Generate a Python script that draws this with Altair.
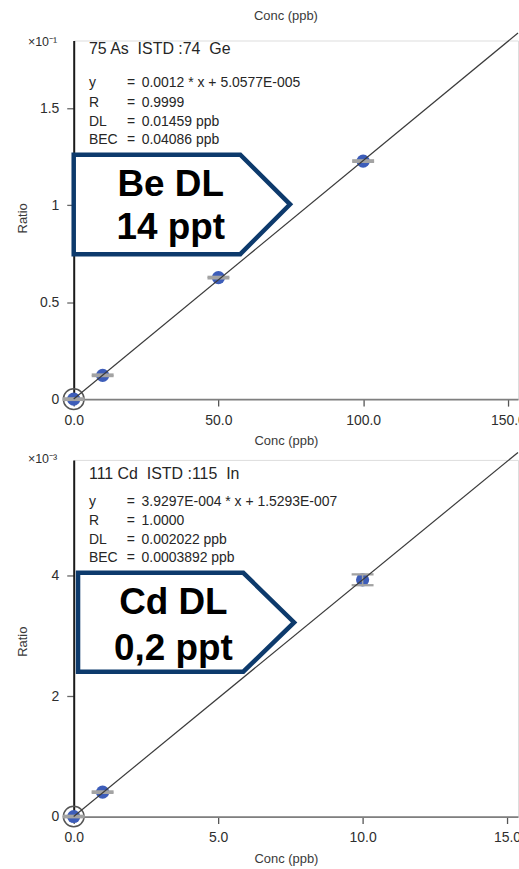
import altair as alt
import pandas as pd

FONT = "Liberation Sans, Arial, Helvetica, sans-serif"
TEXT = "#262626"
AXIS_TEXT = "#2e2e2e"
NAVY = "#0d3a6c"
DOT = "#3d5db9"
CAP = "#a3a3a3"

# ---- 75 As (ISTD 74 Ge) calibration ----
as_conc = [0.0, 10.0, 50.0, 100.0]
as_ratio = [0.0, 0.0123, 0.0627, 0.1228]
as_err = [0.0004, 0.0004, 0.0004, 0.0004]
as_slope = 0.00123
as_intercept = 5.0577e-5
as_header = "75 As\u00a0 ISTD :74\u00a0 Ge"
as_labels = ["y", "R", "DL", "BEC"]
as_values = ["0.0012 * x + 5.0577E-005", "0.9999", "0.01459 ppb", "0.04086 ppb"]
as_callout = ["Be DL", "14 ppt"]

# ---- 111 Cd (ISTD 115 In) calibration ----
cd_conc = [0.0, 1.0, 10.0]
cd_ratio = [0.0, 0.000405, 0.00393]
cd_err = [0.000012, 0.000012, 0.00009]
cd_slope = 3.9297e-4
cd_intercept = 1.5293e-7
cd_header = "111 Cd\u00a0 ISTD :115\u00a0 In"
cd_labels = ["y", "R", "DL", "BEC"]
cd_values = ["3.9297E-004 * x + 1.5293E-007", "1.0000", "0.002022 ppb", "0.0003892 ppb"]
cd_callout = ["Cd DL", "0,2 ppt"]

PLOT_W = 446


def panel(conc, ratio, err, slope, intercept, header, labels, values, callout,
          x_max, x_ticks, y_max, y_ticks, y_factor, exponent, height,
          note_x, note_y, box_x, box_y, box_y2, callout_x, callout_y,
          exp_y, ratio_title_y, top_label=None):
    x_scale = alt.Scale(domain=[0, x_max], nice=False, zero=True)
    y_scale = alt.Scale(domain=[0, y_max], nice=False, zero=True)
    x_axis = alt.Axis(
        values=x_ticks, format=".1f", title="Conc (ppb)", grid=False,
        labelFlush=False, labelOverlap=False,
        domainColor="#7f7f7f", domainWidth=1.8,
        tickColor="#555555", tickSize=7, tickWidth=1.3,
        labelFont=FONT, labelFontSize=14, labelColor=AXIS_TEXT, labelPadding=7,
        titleFont=FONT, titleFontSize=13, titleFontWeight="normal", titleColor="#3a3a3a",
        titleX=213, titleY=42, titleBaseline="middle", titleAlign="center",
    )
    y_axis = alt.Axis(
        values=y_ticks, labelExpr=f"format(datum.value * {y_factor}, '~g')",
        title="Ratio", grid=False, labelOverlap=False,
        domainColor="#1a1a1a", domainWidth=2,
        tickColor="#666666", tickSize=7, tickWidth=1.3,
        labelFont=FONT, labelFontSize=14, labelColor=AXIS_TEXT, labelPadding=8,
        titleFont=FONT, titleFontSize=13, titleFontWeight="normal", titleColor="#3a3a3a",
        titleX=-51, titleY=ratio_title_y, titleBaseline="middle", titleAlign="center",
    )
    ex = alt.X("x:Q", scale=x_scale, axis=x_axis)
    ey = alt.Y("y:Q", scale=y_scale, axis=y_axis)

    pts = pd.DataFrame({"x": conc, "y": ratio})
    pts["lo"] = [r - e for r, e in zip(ratio, err)]
    pts["hi"] = [r + e for r, e in zip(ratio, err)]
    fit = pd.DataFrame({"x": [0.0, x_max]})
    fit["y"] = slope * fit["x"] + intercept

    box = pd.DataFrame({"x": box_x, "y": box_y, "y2": box_y2})
    call = pd.DataFrame({"x": [callout_x, callout_x], "y": callout_y, "text": callout})

    nx = [note_x[0]] + [note_x[0]] * 4 + [note_x[1]] * 4 + [note_x[2]] * 4
    ny = [note_y[0]] + list(note_y[1:]) * 3
    nt = [header] + labels + ["="] * 4 + values
    ns = [16] + [14] * 12
    notes = pd.DataFrame({"x": nx, "y": ny, "text": nt, "size": ns})

    ring = alt.Chart(pts[pts["x"] == 0]).mark_point(
        shape="circle", filled=False, size=430, stroke="#555555", strokeWidth=1.5, opacity=1
    ).encode(x=ex, y=ey)
    dots = alt.Chart(pts).mark_circle(size=175, color=DOT, opacity=1).encode(x=ex, y=ey)
    bars = alt.Chart(pts).mark_rule(color=CAP, strokeWidth=1.5).encode(
        x=ex, y=alt.Y("lo:Q", scale=y_scale, axis=y_axis), y2="hi:Q")
    cap_lo = alt.Chart(pts).mark_tick(orient="horizontal", size=22, thickness=2.3, color=CAP, opacity=1).encode(
        x=ex, y=alt.Y("lo:Q", scale=y_scale, axis=y_axis))
    cap_hi = alt.Chart(pts).mark_tick(orient="horizontal", size=22, thickness=2.3, color=CAP, opacity=1).encode(
        x=ex, y=alt.Y("hi:Q", scale=y_scale, axis=y_axis))
    line = alt.Chart(fit).mark_line(color="#3b3b3b", strokeWidth=1.2, clip=False).encode(x=ex, y=ey)
    arrow = alt.Chart(box).mark_area(
        fill="white", fillOpacity=1, stroke=NAVY, strokeWidth=4.5, strokeJoin="miter",
        interpolate="linear", opacity=1
    ).encode(x=ex, y=ey, y2="y2:Q")
    arrow_text = alt.Chart(call).mark_text(
        font=FONT, fontSize=37, fontWeight="bold", align="center", baseline="alphabetic", color="black"
    ).encode(x=ex, y=ey, text="text:N")
    note_text = alt.Chart(notes).mark_text(
        font=FONT, align="left", baseline="alphabetic", color=TEXT
    ).encode(x=ex, y=ey, text="text:N", size=alt.Size("size:Q", scale=None))
    exp_text = alt.Chart(pd.DataFrame({"t": [exponent]})).mark_text(
        font=FONT, fontSize=12.5, align="left", baseline="middle", color=AXIS_TEXT
    ).encode(x=alt.value(-46), y=alt.value(exp_y), text="t:N")

    layers = [ring, dots, bars, cap_lo, cap_hi, line, arrow, arrow_text, note_text, exp_text]
    if top_label:
        layers.append(
            alt.Chart(pd.DataFrame({"t": [top_label]})).mark_text(
                font=FONT, fontSize=13, align="center", baseline="middle", color="#3a3a3a"
            ).encode(x=alt.value(213), y=alt.value(-25), text="t:N")
        )
    return alt.layer(*layers).properties(width=PLOT_W, height=height)


top = panel(
    as_conc, as_ratio, as_err, as_slope, as_intercept, as_header, as_labels, as_values, as_callout,
    x_max=153.5, x_ticks=[0, 50, 100, 150], y_max=0.185, y_ticks=[0, 0.05, 0.10, 0.15],
    y_factor=10, exponent="×10⁻¹", height=360,
    note_x=[5.26, 18.4, 23.5], note_y=[0.1779, 0.1609, 0.1506, 0.1409, 0.1316],
    box_x=[0.0, 57.55, 74.75], box_y=[0.1261, 0.1261, 0.1005], box_y2=[0.0748, 0.0748, 0.1005],
    callout_x=33.5, callout_y=[0.1049, 0.0828], exp_y=1, ratio_title_y=178,
    top_label="Conc (ppb)",
)

bottom = panel(
    cd_conc, cd_ratio, cd_err, cd_slope, cd_intercept, cd_header, cd_labels, cd_values, cd_callout,
    x_max=15.38, x_ticks=[0, 5, 10, 15], y_max=0.00592, y_ticks=[0, 0.002, 0.004],
    y_factor=1000, exponent="×10⁻³", height=358,
    note_x=[0.528, 1.84, 2.35], note_y=[0.005603, 0.005157, 0.004843, 0.004529, 0.004231],
    box_x=[0.15, 5.87, 7.63], box_y=[0.004045, 0.004045, 0.003223], box_y2=[0.002405, 0.002405, 0.003223],
    callout_x=3.45, callout_y=[0.003355, 0.002595], exp_y=-1, ratio_title_y=182,
)

chart = alt.vconcat(top, bottom, spacing=0).properties(
    padding={"left": 16, "top": 7, "right": -7, "bottom": 5}
).configure_view(stroke=None).configure(background="white")

chart.save("out.html", embed_options={"renderer": "svg", "actions": False})
